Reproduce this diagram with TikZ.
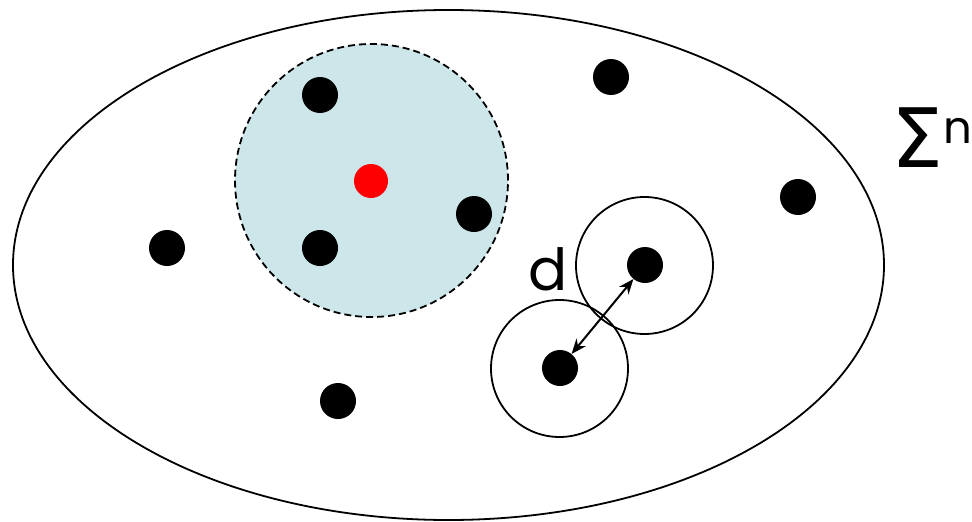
\documentclass[tikz,border=0pt]{standalone}
\usepackage{fontspec}
\setmainfont{Poppins}
\newfontfamily\symfont{DejaVu Sans}
\usetikzlibrary{arrows.meta,shapes.geometric}
\definecolor{zonefill}{RGB}{204,230,234}
\begin{document}
\begin{tikzpicture}[x=1pt,y=-1pt,
  dot/.style={circle,fill=black,inner sep=0pt,minimum size=36pt},
  reddot/.style={circle,fill=red,inner sep=0pt,minimum size=34pt},
  ring/.style={circle,draw=black,line width=1.8pt,inner sep=0pt,minimum size=137pt},
  zone/.style={circle,draw=black,line width=1.8pt,dash pattern=on 7pt off 4pt,fill=zonefill,inner sep=0pt,minimum size=273pt},
  lbl/.style={inner sep=0pt,anchor=base}]
\useasboundingbox (0,0) rectangle (972,522);
\node[draw=black,line width=1.8pt,ellipse,inner sep=0pt,minimum width=871pt,minimum height=510pt] (space) at (448.5,265) {};
\node[zone] (ball) at (371.5,180.5) {};
\node[ring] (ringA) at (644.5,265.5) {};
\node[ring] (ringB) at (559.5,368.5) {};
\node[reddot] (q) at (371,181) {};
\node[dot] (p1) at (320,95) {};
\node[dot] (p2) at (320,248) {};
\node[dot] (p3) at (474,214) {};
\node[dot] (p4) at (167,248) {};
\node[dot] (p5) at (338,401) {};
\node[dot] (p6) at (611,77) {};
\node[dot] (p7) at (798,197) {};
\node[dot] (pa) at (645,265) {};
\node[dot] (pb) at (560,368) {};
\draw[line width=2pt,{Stealth[length=15pt,width=12pt]}-{Stealth[length=15pt,width=12pt]}] (pb) -- (pa);
\node[lbl,font=\fontsize{58}{60}\selectfont] (d) at (548,290) {d};
\node[lbl,anchor=base west,font=\symfont\fontsize{82}{84}\selectfont] (sig) at (891,167) {Σ};
\node[lbl,anchor=base west,font=\fontsize{45}{47}\selectfont] (n) at (943,143) {n};
\end{tikzpicture}
\end{document}
